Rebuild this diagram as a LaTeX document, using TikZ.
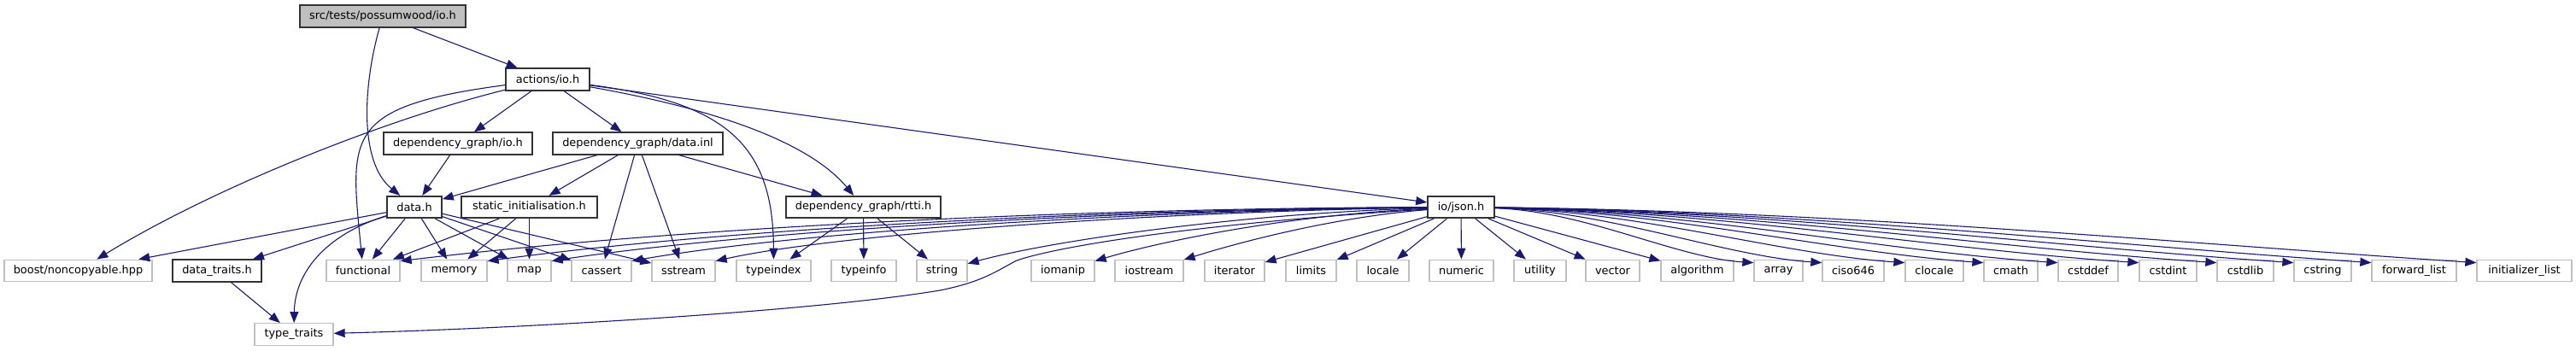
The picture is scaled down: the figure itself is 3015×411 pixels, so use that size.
\documentclass[tikz,border=0pt]{standalone}
\usepackage{fontspec}
\setmainfont{DejaVu Sans}
\usetikzlibrary{arrows.meta}
\definecolor{edgecol}{HTML}{191970}
\definecolor{extgray}{HTML}{BFBFBF}
\definecolor{intborder}{HTML}{333333}
\tikzset{
  box/.style={rectangle, inner sep=0pt, minimum height=25.5pt, font=\fontsize{12.9}{15}\selectfont, text=black},
  ext/.style={box, draw=extgray, line width=1.3pt, fill=white},
  int/.style={box, draw=intborder, line width=1.6pt, fill=white},
  root/.style={box, draw=intborder, line width=1.6pt, fill=extgray},
  edge/.style={draw=edgecol, line width=1.1pt, -{Triangle[length=13pt,width=10pt]}}
}
\begin{document}
\begin{tikzpicture}[x=1pt,y=-1pt]
\useasboundingbox (0,0) rectangle (3015,411);
% nodes
\node[root, minimum width=194] (src) at (448,19) {src/tests/possumwood/io.h};
\node[int, minimum width=98] (actions) at (641,93) {actions/io.h};
\node[int, minimum width=174] (depio) at (536,168) {dependency\_graph/io.h};
\node[int, minimum width=199] (datainl) at (746.5,168) {dependency\_graph/data.inl};
\node[int, minimum width=64] (datah) at (485,242.5) {data.h};
\node[int, minimum width=159] (static) at (619.5,242.5) {static\_initialisation.h};
\node[int, minimum width=181] (rtti) at (1010.5,242.5) {dependency\_graph/rtti.h};
\node[int, minimum width=78] (json) at (1710,242.5) {io/json.h};
\node[ext, minimum width=173] (boost) at (91.5,317) {boost/noncopyable.hpp};
\node[int, minimum width=104] (datatraits) at (254,317) {data\_traits.h};
\node[ext, minimum width=86] (functional) at (425,317) {functional};
\node[ext, minimum width=77] (memory) at (531.5,317) {memory};
\node[ext, minimum width=51] (map) at (619.5,317) {map};
\node[ext, minimum width=70] (cassert) at (704,317) {cassert};
\node[ext, minimum width=74] (sstream) at (800,317) {sstream};
\node[ext, minimum width=87] (typeindex) at (905.5,317) {typeindex};
\node[ext, minimum width=76] (typeinfo) at (1011,317) {typeinfo};
\node[ext, minimum width=59] (string) at (1102.5,317) {string};
\node[ext, minimum width=74] (iomanip) at (1244,317) {iomanip};
\node[ext, minimum width=80] (iostream) at (1345,317) {iostream};
\node[ext, minimum width=70] (iterator) at (1445,317) {iterator};
\node[ext, minimum width=59] (limits) at (1534.5,317) {limits};
\node[ext, minimum width=61] (locale) at (1618.5,317) {locale};
\node[ext, minimum width=75] (numeric) at (1710.5,317) {numeric};
\node[ext, minimum width=61] (utility) at (1802.5,317) {utility};
\node[ext, minimum width=63] (vector) at (1887.5,317) {vector};
\node[ext, minimum width=85] (algorithm) at (1986.5,317) {algorithm};
\node[ext, minimum width=57] (array) at (2081.5,317) {array};
\node[ext, minimum width=72] (ciso) at (2169,317) {ciso646};
\node[ext, minimum width=68] (clocale) at (2264,317) {clocale};
\node[ext, minimum width=63] (cmath) at (2353.5,317) {cmath};
\node[ext, minimum width=70] (cstddef) at (2444,317) {cstddef};
\node[ext, minimum width=67] (cstdint) at (2537.5,317) {cstdint};
\node[ext, minimum width=66] (cstdlib) at (2628,317) {cstdlib};
\node[ext, minimum width=67] (cstring) at (2718.5,317) {cstring};
\node[ext, minimum width=99] (fwdlist) at (2825.5,317) {forward\_list};
\node[ext, minimum width=111] (initlist) at (2954.5,317) {initializer\_list};
\node[ext, minimum width=92] (typetraits) at (344,391.5) {type\_traits};
% edges from src
\draw[edge] (src) -- (actions);
\draw[edge] (src) .. controls (425,100) and (420,190) .. (datah);
% edges from actions/io.h
\draw[edge] (actions) .. controls (450,140) and (250,220) .. (boost);
\draw[edge] (actions) .. controls (400,125) and (410,160) .. (functional);
\draw[edge] (actions) -- (depio);
\draw[edge] (actions) -- (datainl);
\draw[edge] (actions) .. controls (850,120) and (905,170) .. (typeindex);
\draw[edge] (actions) .. controls (850,130) and (950,170) .. (rtti);
\draw[edge] (actions) -- (json);
% dependency_graph/io.h
\draw[edge] (depio) -- (datah);
% data.inl
\draw[edge] (datainl) -- (datah);
\draw[edge] (datainl) -- (static);
\draw[edge] (datainl) -- (cassert);
\draw[edge] (datainl) -- (sstream);
\draw[edge] (datainl) -- (rtti);
% data.h
\draw[edge] (datah) -- (boost);
\draw[edge] (datah) -- (datatraits);
\draw[edge] (datah) -- (functional);
\draw[edge] (datah) -- (memory);
\draw[edge] (datah) -- (map);
\draw[edge] (datah) -- (cassert);
\draw[edge] (datah) -- (sstream);
\draw[edge] (datah) .. controls (380,275) and (345,320) .. (typetraits);
% static_initialisation.h
\draw[edge] (static) -- (functional);
\draw[edge] (static) -- (memory);
\draw[edge] (static) -- (map);
% rtti.h
\draw[edge] (rtti) -- (typeindex);
\draw[edge] (rtti) -- (typeinfo);
\draw[edge] (rtti) -- (string);
% data_traits.h
\draw[edge] (datatraits) -- (typetraits);
% io/json.h to the left
\draw[edge] (json) .. controls (1250,244) and (800,266) .. ([yshift=-2pt]functional.north east);
\draw[edge] (json) .. controls (1280,245) and (850,268) .. ([yshift=-2pt]memory.north east);
\draw[edge] (json) .. controls (1300,246) and (880,270) .. ([yshift=-2pt]map.north east);
\draw[edge] (json) .. controls (1320,247) and (930,272) .. ([yshift=-2pt]cassert.north east);
\draw[edge] (json) .. controls (1350,248) and (980,274) .. ([yshift=-2pt]sstream.north east);
\draw[edge] (json) .. controls (1450,250) and (1230,282) .. (string);
\draw[edge] (json) .. controls (1500,252) and (1350,285) .. (iomanip);
\draw[edge] (json) .. controls (1550,255) and (1430,290) .. (iostream);
\draw[edge] (json) -- (iterator);
\draw[edge] (json) -- (limits);
\draw[edge] (json) -- (locale);
\draw[edge] (json) -- (numeric);
\draw[edge] (json) -- (utility);
\draw[edge] (json) -- (vector);
\draw[edge] (json) -- (algorithm);
\draw[edge] (json) .. controls (1400,262) and (1240,288) .. (1190,305) .. controls (1165,318) and (1150,330) .. (1100,340) .. controls (950,365) and (600,385) .. (typetraits);
% io/json.h to the right
\draw[edge] (json) .. controls (1855,247) and (1962,302) .. ([yshift=-4pt]array.north west);
\draw[edge] (json) .. controls (1883,247) and (2018,300) .. ([yshift=-4pt]ciso.north west);
\draw[edge] (json) .. controls (1917,247) and (2086,298) .. ([yshift=-4pt]clocale.north west);
\draw[edge] (json) .. controls (1950,247) and (2150,296) .. ([yshift=-4pt]cmath.north west);
\draw[edge] (json) .. controls (1980,247) and (2211,295) .. ([yshift=-4pt]cstddef.north west);
\draw[edge] (json) .. controls (2013,247) and (2277,293) .. ([yshift=-4pt]cstdint.north west);
\draw[edge] (json) .. controls (2045,247) and (2341,291) .. ([yshift=-4pt]cstdlib.north west);
\draw[edge] (json) .. controls (2077,247) and (2404,289) .. ([yshift=-4pt]cstring.north west);
\draw[edge] (json) .. controls (2108,247) and (2468,287) .. ([yshift=-4pt]fwdlist.north west);
\draw[edge] (json) .. controls (2152,247) and (2554,285) .. ([yshift=-4pt]initlist.north west);
\end{tikzpicture}
\end{document}
